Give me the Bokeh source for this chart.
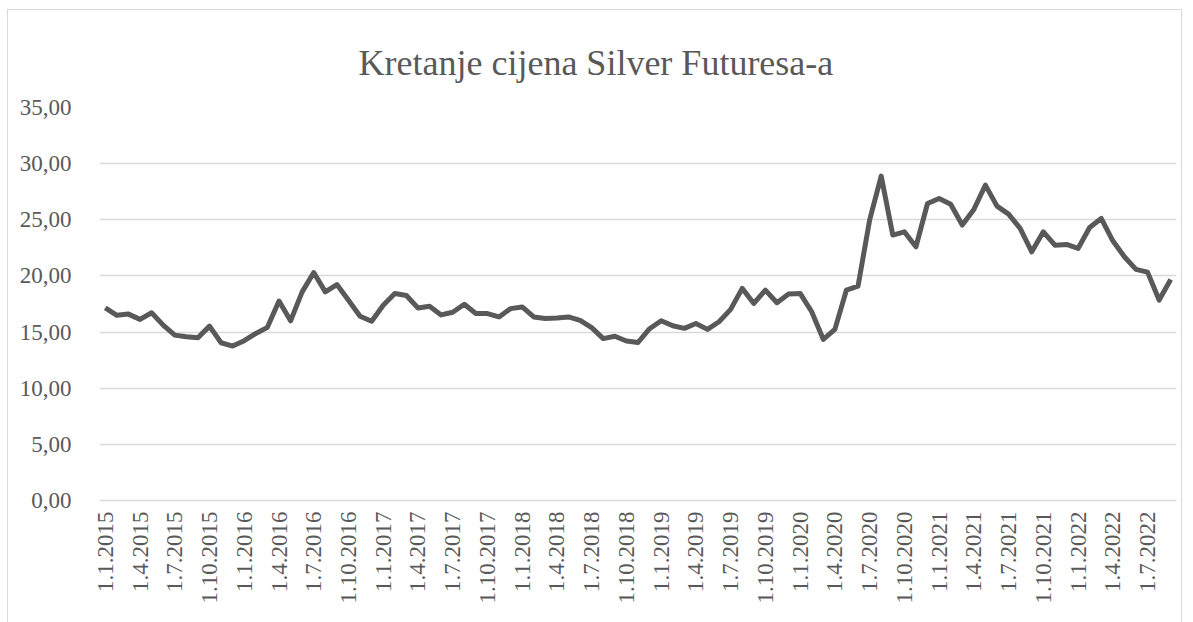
import math
from bokeh.plotting import figure
from bokeh.models import Range1d, FixedTicker
from bokeh.embed import file_html
from bokeh.resources import INLINE

title_text = "Kretanje cijena Silver Futuresa-a"

# monthly dates 1.1.2015 .. 1.9.2022
months = [f"1.{m}.{y}" for y in range(2015, 2023) for m in range(1, 13)][:93]

prices = [
    17.16, 16.49, 16.60, 16.13, 16.72, 15.62, 14.73, 14.58, 14.49, 15.53,
    14.05, 13.75, 14.23, 14.88, 15.42, 17.76, 16.00, 18.58, 20.30, 18.58,
    19.23, 17.83, 16.41, 15.96, 17.39, 18.43, 18.25, 17.15, 17.30, 16.53,
    16.77, 17.48, 16.65, 16.65, 16.35, 17.09, 17.24, 16.35, 16.20, 16.26,
    16.35, 16.05, 15.40, 14.42, 14.63, 14.21, 14.07, 15.30, 16.01, 15.56,
    15.33, 15.77, 15.24, 15.92, 17.02, 18.89, 17.55, 18.74, 17.61, 18.38,
    18.44, 16.81, 14.35, 15.24, 18.74, 19.09, 24.97, 28.89, 23.64, 23.93,
    22.60, 26.45, 26.90, 26.39, 24.53, 25.92, 28.09, 26.22, 25.50, 24.23,
    22.15, 23.93, 22.74, 22.80, 22.45, 24.32, 25.12, 23.13, 21.71, 20.58,
    20.34, 17.85, 19.69,
]

y_ticks = [0, 5, 10, 15, 20, 25, 30, 35]

idx = list(range(len(prices)))
label_ticks = idx[::3]

FONT = "Liberation Serif"
TXT = "#595959"

p = figure(width=1175, height=620, output_backend="svg", toolbar_location=None,
           x_range=Range1d(-0.5, len(prices) - 0.5), y_range=Range1d(0, 35),
           min_border_left=91, min_border_right=7, min_border_top=97, min_border_bottom=130)
p.styles = {"border": "1px solid #d9d9d9", "margin": "9px 0px 0px 7px"}

p.title.text = title_text
p.title.align = "left"
p.title.text_font = FONT
p.title.text_font_size = "36px"
p.title.text_font_style = "normal"
p.title.text_color = TXT
p.title.offset = 259
p.title.standoff = 50

p.line(idx, prices, line_color="#595959", line_width=5, line_join="round")

p.outline_line_color = None
p.background_fill_color = "white"
p.border_fill_color = "white"

p.xgrid.grid_line_color = None
p.ygrid.grid_line_color = "#d9d9d9"
p.ygrid.grid_line_width = 1.5
p.yaxis.ticker = FixedTicker(ticks=y_ticks)
p.yaxis.major_label_overrides = {t: f"{t:.2f}".replace(".", ",") for t in y_ticks}
p.yaxis.axis_line_color = None
p.yaxis.major_tick_line_color = None
p.yaxis.minor_tick_line_color = None
p.yaxis.major_label_standoff = 22
p.yaxis.major_label_text_font = FONT
p.yaxis.major_label_text_font_size = "23px"
p.yaxis.major_label_text_color = TXT

p.xaxis.ticker = FixedTicker(ticks=label_ticks)
p.xaxis.major_label_overrides = {i: months[i] for i in label_ticks}
p.xaxis.major_label_orientation = math.pi / 2
p.xaxis.axis_line_color = "#d9d9d9"
p.xaxis.axis_line_width = 1.5
p.xaxis.major_tick_line_color = None
p.xaxis.minor_tick_line_color = None
p.xaxis.major_label_standoff = 5
p.xaxis.major_label_text_font = FONT
p.xaxis.major_label_text_font_size = "23px"
p.xaxis.major_label_text_color = TXT

open("out.html", "w").write(file_html(p, INLINE))
